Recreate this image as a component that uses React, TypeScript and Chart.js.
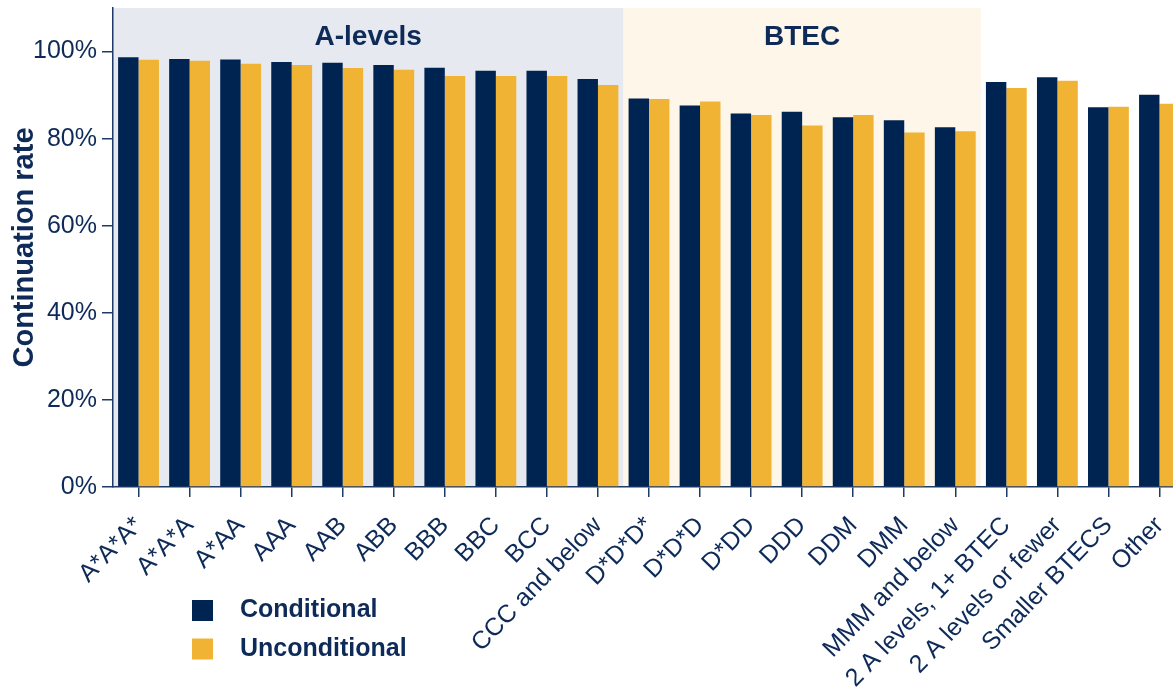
import React, { useEffect, useRef } from 'react';
import { Chart, registerables } from 'chart.js';

Chart.register(...registerables);

const categories = [
  'A*A*A*', 'A*A*A', 'A*AA', 'AAA', 'AAB', 'ABB', 'BBB', 'BBC', 'BCC', 'CCC and below',
  'D*D*D*', 'D*D*D', 'D*DD', 'DDD', 'DDM', 'DMM', 'MMM and below',
  '2 A levels, 1+ BTEC', '2 A levels or fewer', 'Smaller BTECS', 'Other',
];
const conditional = [
  98.7, 98.3, 98.2, 97.6, 97.4, 96.9, 96.3, 95.6, 95.6, 93.7,
  89.2, 87.6, 85.8, 86.2, 84.9, 84.2, 82.6,
  93.0, 94.1, 87.2, 90.1,
];
const unconditional = [
  98.1, 97.9, 97.2, 96.9, 96.2, 95.8, 94.4, 94.4, 94.4, 92.3,
  89.1, 88.5, 85.4, 83.0, 85.4, 81.4, 81.7,
  91.6, 93.3, 87.3, 88.0,
];
const seriesLabels = ['Conditional', 'Unconditional'];
const seriesColors = ['#002452', '#f0b333'];
const yTickValues = [0, 20, 40, 60, 80, 100];
const yMax = 110;
const groupLabels = ['A-levels', 'BTEC'];
const groupFirst = [0, 10];
const groupLast = [9, 16];
const groupFills = ['#e6e9ef', '#fdf6e9'];

const FONT = "'Liberation Sans', Arial, sans-serif";
const TEXT = '#0d2a58';
const AXIS = '#1e3a68';

const bandsPlugin = {
  id: 'bands',
  beforeDraw(chart: any) {
    const { ctx, chartArea, scales } = chart;
    const x = scales.x;
    const step = x.getPixelForValue(1) - x.getPixelForValue(0);
    ctx.save();
    groupLabels.forEach((_, i) => {
      const l = x.getPixelForValue(groupFirst[i]) - step / 2;
      const r = x.getPixelForValue(groupLast[i]) + step / 2;
      ctx.fillStyle = groupFills[i];
      ctx.fillRect(l, chartArea.top, r - l, chartArea.bottom - chartArea.top);
    });
    ctx.restore();
  },
  afterDraw(chart: any) {
    const { ctx, chartArea, scales } = chart;
    const x = scales.x;
    const step = x.getPixelForValue(1) - x.getPixelForValue(0);
    ctx.save();
    ctx.fillStyle = TEXT;
    ctx.font = `bold 28px ${FONT}`;
    ctx.textAlign = 'center';
    ctx.textBaseline = 'middle';
    groupLabels.forEach((lab, i) => {
      const l = x.getPixelForValue(groupFirst[i]) - step / 2;
      const r = x.getPixelForValue(groupLast[i]) + step / 2;
      ctx.fillText(lab, (l + r) / 2, chartArea.top + 29);
    });
    // legend
    ctx.font = `bold 25px ${FONT}`;
    ctx.textAlign = 'left';
    seriesLabels.forEach((lab, i) => {
      const y = 600 + i * 38.5;
      ctx.fillStyle = seriesColors[i];
      ctx.fillRect(192, y, 21, 21);
      ctx.fillStyle = TEXT;
      ctx.fillText(lab, 240, y + 10.5);
    });
    ctx.restore();
  },
};

export default function App() {
  const ref = useRef<HTMLCanvasElement>(null);
  useEffect(() => {
    if (!ref.current) return;
    const chart = new Chart(ref.current, {
      type: 'bar',
      data: {
        labels: categories,
        datasets: [
          { label: seriesLabels[0], data: conditional, backgroundColor: seriesColors[0], categoryPercentage: 0.8, barPercentage: 1 },
          { label: seriesLabels[1], data: unconditional, backgroundColor: seriesColors[1], categoryPercentage: 0.8, barPercentage: 1 },
        ],
      },
      options: {
        responsive: false,
        animation: false,
        layout: { padding: { top: 8, right: 15, left: 0, bottom: 0 } },
        plugins: { legend: { display: false }, tooltip: { enabled: false } },
        scales: {
          x: {
            offset: true,
            ticks: {
              autoSkip: false, maxRotation: 46, minRotation: 46,
              color: TEXT, font: { size: 25, family: FONT }, padding: 14,
            },
            grid: { offset: false, drawOnChartArea: false, drawTicks: true, tickLength: 10, color: AXIS, lineWidth: 1.5 },
            border: { display: true, color: AXIS, width: 1.5 },
            afterFit: (s: any) => { s.height = 204; s.paddingLeft = 0; s.paddingRight = 0; },
          },
          y: {
            min: 0, max: yMax,
            afterBuildTicks: (s: any) => { s.ticks = yTickValues.map((v) => ({ value: v })); },
            ticks: {
              callback: (v: any) => v + '%',
              color: TEXT, font: { size: 25, family: FONT }, padding: 5,
            },
            grid: { drawOnChartArea: false, drawTicks: true, tickLength: 11, color: AXIS, lineWidth: 1.5 },
            border: { display: true, color: AXIS, width: 1.5 },
            title: {
              display: true, text: 'Continuation rate', color: TEXT,
              font: { size: 29, weight: 'bold', family: FONT }, padding: { top: 8, bottom: 0 },
            },
            afterFit: (s: any) => { s.width = 113; s.paddingTop = 0; s.paddingBottom = 0; },
          },
        },
      },
      plugins: [bandsPlugin],
    });
    return () => chart.destroy();
  }, []);
  return (
    <div style={{ position: 'fixed', left: 0, top: 0, width: 1173, height: 691, overflow: 'hidden', background: '#fff' }}>
      <canvas ref={ref} width={1200} height={691} style={{ display: 'block' }} />
    </div>
  );
}
